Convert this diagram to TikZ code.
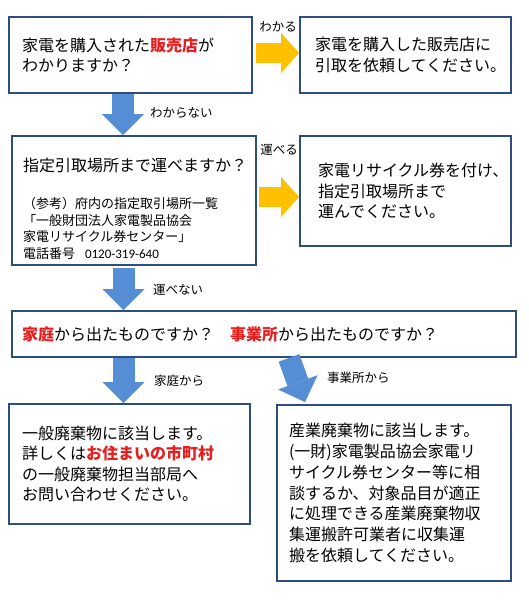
\documentclass[tikz,border=0pt]{standalone}
\usepackage{fontspec}
\setmainfont{Noto Sans CJK JP}
\newfontfamily\numfont{Carlito}
\usepackage{tikz}
\usetikzlibrary{arrows.meta}
\setlength{\parindent}{0pt}

\definecolor{boxline}{HTML}{2C4D7E}
\definecolor{gowith}{HTML}{FFC000}
\definecolor{goon}{HTML}{558ED5}
\definecolor{alert}{HTML}{E61E1E}
\newcommand\redbf[1]{{\bfseries\color{alert}#1}}

\begin{document}
\begin{tikzpicture}[
    x=1pt, y=-1pt,
    box/.style={draw=boxline, line width=1.8pt, fill=white, align=left, inner ysep=0pt,
        font=\fontsize{16}{20.5}\selectfont},
    answer/.style={inner sep=0pt, font=\fontsize{12.5}{14}\selectfont},
    yes arrow/.style={draw=gowith, line width=20pt, -{Triangle[width=40pt,length=18pt,line width=0pt]}},
    no arrow/.style={draw=goon, line width=22pt, -{Triangle[width=42pt,length=21pt,line width=0pt]}}
]
\useasboundingbox (0,0) rectangle (529,604);

% Question 1: shop
\node[box, minimum width=243pt, minimum height=76pt, text width=217pt, inner xsep=13pt] (buy) at (130.5, 55)
    {家電を購入された\redbf{販売店}が\\わかりますか？};
\node[box, minimum width=211pt, minimum height=76pt, text width=181pt, inner xsep=15pt] (shop) at (405.5, 55)
    {家電を購入した販売店に\\引取を依頼してください。};

% Question 2: carry
\node[box, minimum width=244pt, minimum height=129pt, text width=222pt, inner xsep=11pt] (carry) at (134, 200.5)
    {\rule{0pt}{30pt}指定引取場所まで運べますか？\par\vspace{20.3pt}
     {\fontsize{13}{16.7}\selectfont （参考）府内の指定取引場所一覧\\
      「一般財団法人家電製品協会\\
      家電リサイクル券センター」\\
      電話番号\hspace{10pt}{\numfont 0120-319-640}\par}};
\node[box, minimum width=211pt, minimum height=110pt, text width=175pt, inner xsep=18pt] (ticket) at (405.5, 191)
    {家電リサイクル券を付け、\\指定引取場所まで\\運んでください。};

% Question 3: home or business
\node[box, minimum width=504pt, minimum height=46pt, text width=484pt, inner xsep=10pt] (kind) at (264, 334)
    {\redbf{家庭}から出たものですか？　\redbf{事業所}から出たものですか？};

% Answers
\node[box, minimum width=241pt, minimum height=120pt, text width=215pt, inner xsep=13pt] (house) at (129.5, 464)
    {一般廃棄物に該当します。\\詳しくは\redbf{お住まいの市町村}\\の一般廃棄物担当部局へ\\お問い合わせください。};
\node[box, minimum width=234pt, minimum height=176pt, text width=210pt, inner xsep=12pt,
      font=\fontsize{16}{20.8}\selectfont] (biz) at (394, 493)
    {産業廃棄物に該当します。\\(一財)家電製品協会家電リ\\サイクル券センター等に相\\談するか、対象品目が適正\\に処理できる産業廃棄物収\\集運搬許可業者に収集運\\搬を依頼してください。};

% Arrows
\draw[yes arrow] ([xshift=3pt,yshift=2pt]buy.east) -- ([yshift=2pt]shop.west);
\draw[yes arrow] ([xshift=2pt,yshift=3.5pt]carry.east) -- ([yshift=3.5pt]carry.east -| ticket.west);
\draw[no arrow] ([xshift=-7.5pt]buy.south) -- ([xshift=-7.5pt]buy.south |- carry.north);
\draw[no arrow] ([xshift=-10.5pt,yshift=-2pt]carry.south) -- ([xshift=-10.5pt]carry.south |- kind.north);
\draw[no arrow] ([xshift=-6pt]house.north |- kind.south) -- ([xshift=-6pt]house.north);
\draw[no arrow] ([xshift=25pt]kind.south) -- ([xshift=-89pt,yshift=2pt]biz.north);

% Answer labels
\node[answer] (yes1) at (278, 27) {わかる};
\node[answer] (yes2) at (279, 150) {運べる};
\node[answer, anchor=west] (no1) at (150, 113) {わからない};
\node[answer, anchor=west] (no2) at (153, 290) {運べない};
\node[answer, anchor=west] (home) at (154, 381) {家庭から};
\node[answer, anchor=west] (office) at (327, 378) {事業所から};

\end{tikzpicture}
\end{document}
